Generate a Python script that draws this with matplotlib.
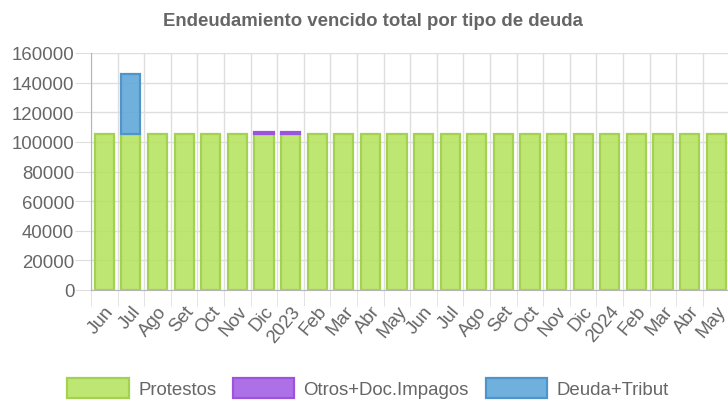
import numpy as np
import matplotlib
matplotlib.use("Agg")
import matplotlib.pyplot as plt
import matplotlib.transforms as mtransforms
from matplotlib.patches import Patch

# --- data ---
meses = ["Jun", "Jul", "Ago", "Set", "Oct", "Nov", "Dic", "2023",
         "Feb", "Mar", "Abr", "May", "Jun", "Jul", "Ago", "Set", "Oct",
         "Nov", "Dic", "2024", "Feb", "Mar", "Abr", "May"]
protestos = [105000] * 24
otros = [0, 0, 0, 0, 0, 0, 2000, 2000] + [0] * 16
deuda = [0, 41000] + [0] * 22
y_ticks = [0, 20000, 40000, 60000, 80000, 100000, 120000, 140000, 160000]

# --- style ---
plt.rcParams['font.family'] = ['Liberation Sans', 'DejaVu Sans']
GRAY = '#666666'
GRID = '#dedede'
FS = 13.4
C_PROT = (0.71, 0.89, 0.37, 0.88)
C_OTR = (0.64, 0.36, 0.89, 0.88)
C_DEU = (0.38, 0.66, 0.85, 0.9)

fig = plt.figure(figsize=(7.28, 4.06), dpi=100)
W, H = 728, 406
left, right, top, bottom = 91, 729.5, 54, 291
ax = fig.add_axes([left / W, 1 - bottom / H, (right - left) / W, (bottom - top) / H])

x = np.arange(len(meses))
bw = 0.72
prot = np.array(protestos)
otr = np.array(otros)
deu = np.array(deuda)

# only draw segments that have a value (no empty outlines)
def stack(vals, base, color, edge):
    m = vals > 0
    ax.bar(x[m], vals[m], bottom=base[m], width=bw, color=color, edgecolor=edge, linewidth=1.6, zorder=3)

stack(prot, np.zeros(len(x)), C_PROT, '#a3d150')
stack(otr, prot, C_OTR, '#9b55dd')
stack(deu, prot + otr, C_DEU, '#4f95cc')

ax.set_xlim(-0.5, len(meses) - 0.5)
ax.set_ylim(0, 160000)

ax.set_yticks(y_ticks)
ax.set_yticklabels([str(v) for v in y_ticks])
ax.set_xticks(x)
ax.set_xticklabels(meses, rotation=50, ha='right', va='top', rotation_mode='anchor')
ax.set_xticks(np.arange(-0.5, len(meses)), minor=True)

# nudge rotated labels a little to the left
shift = mtransforms.ScaledTranslation(-3 / 100, 0, fig.dpi_scale_trans)
for lbl in ax.get_xticklabels():
    lbl.set_transform(lbl.get_transform() + shift)

ax.tick_params(axis='y', length=11.5, color=GRID, labelcolor=GRAY, labelsize=FS, pad=0.5)
ax.tick_params(axis='x', which='major', length=0, labelcolor=GRAY, labelsize=FS, pad=9)
ax.tick_params(axis='x', which='minor', length=11.5, color=GRID)

ax.grid(axis='y', color=GRID, linewidth=1, zorder=0)
ax.grid(axis='x', which='minor', color=GRID, linewidth=1, zorder=0)
ax.grid(axis='x', which='major', visible=False)

for s in ['top', 'right']:
    ax.spines[s].set_visible(False)
ax.spines['left'].set_color('#b5b5b5')
ax.spines['bottom'].set_color('#b5b5b5')

fig.suptitle("Endeudamiento vencido total por tipo de deuda", x=373 / W, y=1 - 21 / H,
             va='center', fontsize=13.4, fontweight='bold', color=GRAY)

handles = [Patch(facecolor=C_PROT, edgecolor='#a3d150', linewidth=1.6, label='Protestos'),
           Patch(facecolor=C_OTR, edgecolor='#9b55dd', linewidth=1.6, label='Otros+Doc.Impagos'),
           Patch(facecolor=C_DEU, edgecolor='#4f95cc', linewidth=1.6, label='Deuda+Tribut')]
leg = fig.legend(handles=handles, loc='center', bbox_to_anchor=(368 / W, 1 - 389 / H), ncol=3,
                 frameon=False, fontsize=FS, handlelength=3.3, handleheight=1.3,
                 handletextpad=0.5, columnspacing=0.9, labelcolor=GRAY)

fig.savefig("out.png", dpi=100)
